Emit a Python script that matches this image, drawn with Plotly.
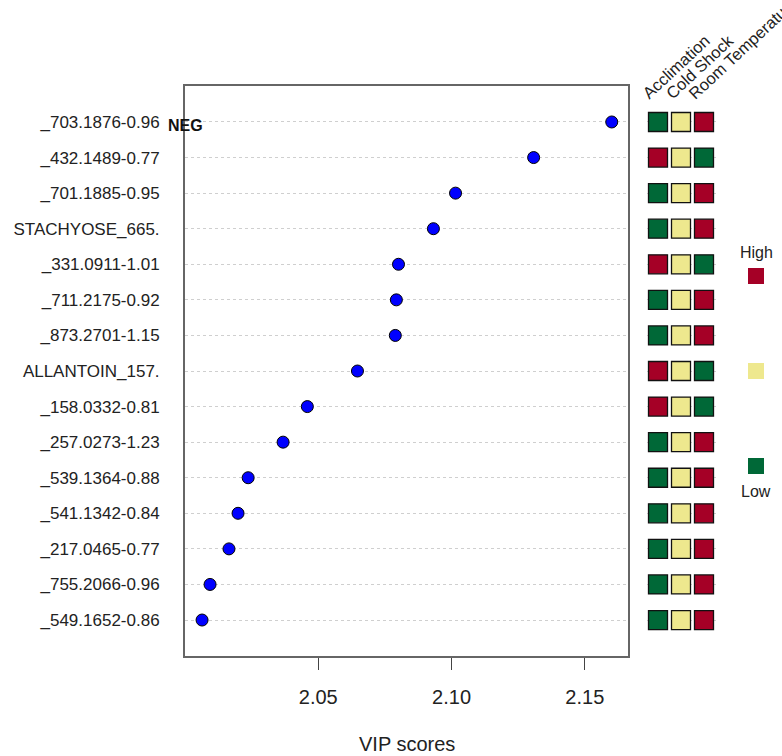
import plotly.graph_objects as go

features = ["_703.1876-0.96", "_432.1489-0.77", "_701.1885-0.95", "STACHYOSE_665.",
            "_331.0911-1.01", "_711.2175-0.92", "_873.2701-1.15", "ALLANTOIN_157.",
            "_158.0332-0.81", "_257.0273-1.23", "_539.1364-0.88", "_541.1342-0.84",
            "_217.0465-0.77", "_755.2066-0.96", "_549.1652-0.86"]
vip = [2.1601, 2.1308, 2.1015, 2.0932, 2.0801, 2.0793, 2.0789, 2.0647,
       2.0459, 2.0368, 2.0237, 2.0199, 2.0165, 2.0094, 2.0064]
conditions = ["Acclimation", "Cold Shock", "Room Temperature"]
acclimation = ["Low", "High", "Low", "Low", "High", "Low", "Low", "High",
               "High", "Low", "Low", "Low", "Low", "Low", "Low"]
cold_shock = ["Mid"] * 15
room_temp = ["High", "Low", "High", "High", "Low", "High", "High", "Low",
             "Low", "High", "High", "High", "High", "High", "High"]
x_ticks = [2.05, 2.10, 2.15]
level_colors = {"High": "#A50026", "Mid": "#EEE88E", "Low": "#006837"}

n = len(features)
ypos = list(range(n, 0, -1))
FONT = "Liberation Sans, Arial, sans-serif"

fig = go.Figure()

fig.add_trace(go.Scatter(
    x=vip, y=ypos, mode="markers",
    marker=dict(color="#0000FF", size=12, line=dict(color="black", width=1)),
    xaxis="x", yaxis="y", showlegend=False, hoverinfo="x+text", text=features))

for ci, levels in enumerate([acclimation, cold_shock, room_temp]):
    fig.add_trace(go.Scatter(
        x=[ci] * n, y=ypos, mode="markers",
        marker=dict(symbol="square", size=19,
                    color=[level_colors[v] for v in levels],
                    line=dict(color="#111", width=1.3)),
        xaxis="x2", yaxis="y", showlegend=False, hoverinfo="text",
        text=[f"{conditions[ci]}: {v}" for v in levels]))

ydom = [(756 - 655.6) / 756, (756 - 86.4) / 756]

fig.update_layout(
    width=782, height=756,
    margin=dict(l=0, r=0, t=0, b=0),
    paper_bgcolor="white", plot_bgcolor="white",
    font=dict(family=FONT, color="#222"),
    xaxis=dict(domain=[185 / 782, 628 / 782], range=[2.0, 2.1662],
               tickvals=x_ticks, ticktext=[f"{v:.2f}" for v in x_ticks],
               ticks="outside", ticklen=12, tickcolor="#444", tickwidth=1,
               tickfont=dict(size=20, color="#222"), ticklabelstandoff=10,
               showgrid=False, zeroline=False,
               showline=True, mirror=True, linecolor="#666", linewidth=2),
    xaxis2=dict(domain=[646.5 / 782, 715.5 / 782], range=[-0.5, 2.5],
                visible=False, fixedrange=True),
    yaxis=dict(domain=ydom, range=[0, 16], tickvals=ypos, ticktext=features,
               tickfont=dict(size=17, color="#222"), ticks="",
               ticklabelstandoff=20,
               showgrid=True, gridcolor="#cfcfcf", griddash="dot", gridwidth=1,
               zeroline=False, showline=True, mirror=True,
               linecolor="#666", linewidth=2),
)

annotations = [
    dict(text="VIP scores", xref="paper", yref="paper", x=406.5 / 782,
         y=(756 - 744) / 756, xanchor="center", yanchor="middle",
         showarrow=False, font=dict(size=20, color="#222")),
    dict(text="<b>NEG</b>", xref="x", yref="y", x=2.0, y=ypos[0], yshift=-4,
         xanchor="center", yanchor="middle", showarrow=False,
         font=dict(size=16, color="#111")),
    dict(text="High", xref="paper", yref="paper", x=756 / 782,
         y=(756 - 252) / 756, showarrow=False, xanchor="center",
         yanchor="middle", font=dict(size=16, color="#222")),
    dict(text="Low", xref="paper", yref="paper", x=756 / 782,
         y=(756 - 491) / 756, showarrow=False, xanchor="center",
         yanchor="middle", font=dict(size=16, color="#222")),
]
for ci, name in enumerate(conditions):
    annotations.append(dict(
        text=name, xref="x2", yref="paper", x=ci, xshift=-22,
        y=(756 - 105) / 756, xanchor="left", yanchor="bottom",
        textangle=-43, showarrow=False, font=dict(size=16.5, color="#222")))
fig.update_layout(annotations=annotations)

shapes = []
for lvl, yc in [("High", 276), ("Mid", 371), ("Low", 466)]:
    shapes.append(dict(type="rect", xref="paper", yref="paper",
                       x0=(756 - 8) / 782, x1=(756 + 8) / 782,
                       y0=(756 - yc - 8) / 756, y1=(756 - yc + 8) / 756,
                       fillcolor=level_colors[lvl], line=dict(width=0)))
fig.update_layout(shapes=shapes)

fig.write_html(
    "out.html",
    config={"displayModeBar": False},
    post_script="document.body.style.margin='0';document.body.style.overflow='hidden';")
